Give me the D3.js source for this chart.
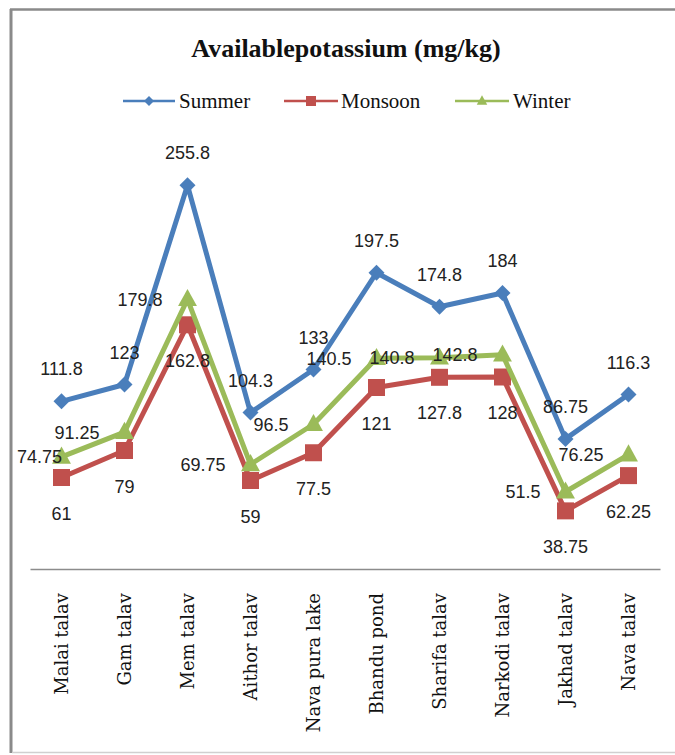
<!DOCTYPE html>
<html>
<head>
<meta charset="utf-8">
<title>Available potassium</title>
<script src="https://d3js.org/d3.v7.min.js"></script>
<style>
  body { margin: 0; padding: 0; background: #fff; }
  svg { display: block; }
</style>
</head>
<body>
<script>
// chart values
var sites = ["Malai talav", "Gam talav", "Mem talav", "Aithor talav", "Nava pura lake",
             "Bhandu pond", "Sharifa talav", "Narkodi talav", "Jakhad talav", "Nava talav"];
var summer  = [111.8, 123, 255.8, 104.3, 133, 197.5, 174.8, 184, 86.75, 116.3];
var monsoon = [61, 79, 162.8, 59, 77.5, 121, 127.8, 128, 38.75, 62.25];
var winter  = [74.75, 91.25, 179.8, 69.75, 96.5, 140.5, 140.8, 142.8, 51.5, 76.25];
var seriesNames = ["Summer", "Monsoon", "Winter"];
var chartTitle = "Availablepotassium (mg/kg)";

var width = 675, height = 755;

var series = [
    { name: seriesNames[0], values: summer,  color: "#4a7ebb", marker: "diamond",  label: "above" },
    { name: seriesNames[1], values: monsoon, color: "#c0504d", marker: "square",   label: "below" },
    { name: seriesNames[2], values: winter,  color: "#9bbb59", marker: "triangle", label: "left" }
];

var svg = d3.select("body").append("svg")
    .attr("width", width)
    .attr("height", height);

// chart area border
svg.append("line").attr("x1", 11).attr("y1", 9).attr("x2", 11).attr("y2", 753)
    .attr("stroke", "#8a8a8a").attr("stroke-width", 3);
svg.append("line").attr("x1", 10).attr("y1", 9.5).attr("x2", 675).attr("y2", 9.5)
    .attr("stroke", "#8a8a8a").attr("stroke-width", 2.5);
svg.append("line").attr("x1", 12).attr("y1", 752.5).attr("x2", 675).attr("y2", 752.5)
    .attr("stroke", "#d0d0d0").attr("stroke-width", 1.5);

var x = d3.scaleBand().domain(sites).range([30, 660]);
var y = d3.scaleLinear().domain([0, 300]).range([569, 119]);
var cx = function (i) { return x(sites[i]) + x.bandwidth() / 2; };

// title
svg.append("text")
    .attr("x", 346).attr("y", 57)
    .attr("text-anchor", "middle")
    .attr("font-family", "Liberation Serif, Times New Roman, serif")
    .attr("font-weight", "bold")
    .attr("font-size", 26)
    .attr("fill", "#111")
    .text(chartTitle);

// x axis
var xAxis = svg.append("g")
    .attr("transform", "translate(0,569)")
    .call(d3.axisBottom(x).tickSize(0).tickFormat(""));
xAxis.select(".domain").attr("stroke", "#8c8c8c").attr("stroke-width", 1.5);

svg.append("g").selectAll("text")
    .data(sites)
    .join("text")
    .attr("transform", function (d) { return "translate(" + (x(d) + x.bandwidth() / 2) + ",593) rotate(-90)"; })
    .attr("dy", "0.35em")
    .attr("text-anchor", "end")
    .attr("font-family", "DejaVu Serif, serif")
    .attr("font-size", 18)
    .attr("fill", "#111")
    .text(function (d) { return d; });

function markerPath(type, s) {
    if (type === "diamond") return "M0," + (-s) + "L" + s + ",0L0," + s + "L" + (-s) + ",0Z";
    if (type === "square") return "M" + (-s) + "," + (-s) + "H" + s + "V" + s + "H" + (-s) + "Z";
    return "M0," + (-s * 1.15) + "L" + (s * 1.05) + "," + (s * 0.75) + "L" + (-s * 1.05) + "," + (s * 0.75) + "Z";
}
var markerSize = { diamond: 8, square: 8.5, triangle: 9 };

var line = d3.line()
    .x(function (d, i) { return cx(i); })
    .y(function (d) { return y(d); });

series.forEach(function (s) {
    var g = svg.append("g");
    g.append("path")
        .datum(s.values)
        .attr("d", line)
        .attr("fill", "none")
        .attr("stroke", s.color)
        .attr("stroke-width", 5)
        .attr("stroke-linejoin", "round");
    g.selectAll("path.m")
        .data(s.values)
        .join("path")
        .attr("class", "m")
        .attr("transform", function (d, i) { return "translate(" + cx(i) + "," + y(d) + ")"; })
        .attr("d", markerPath(s.marker, markerSize[s.marker]))
        .attr("fill", s.color);
});

// data labels
var labels = svg.append("g")
    .attr("font-family", "Liberation Sans, Arial, sans-serif")
    .attr("font-size", 18)
    .attr("fill", "#222");

series.forEach(function (s) {
    s.values.forEach(function (v, i) {
        var t = labels.append("text").text(v);
        if (s.label === "above") {
            t.attr("x", cx(i)).attr("y", y(v) - 26).attr("text-anchor", "middle");
        } else if (s.label === "below") {
            t.attr("x", cx(i)).attr("y", y(v) + 42).attr("text-anchor", "middle");
        } else {
            var w = t.node().getComputedTextLength();
            var left = Math.max(17, cx(i) - 25 - w);
            t.attr("x", left).attr("y", y(v) + 6.5).attr("text-anchor", "start");
        }
    });
});

// legend
var legendItems = [
    { s: series[0], x1: 123, x2: 175, tx: 179 },
    { s: series[1], x1: 284, x2: 338, tx: 341 },
    { s: series[2], x1: 455, x2: 509, tx: 513 }
];
var legend = svg.append("g");
legendItems.forEach(function (it) {
    var ly = 101;
    legend.append("line")
        .attr("x1", it.x1).attr("x2", it.x2)
        .attr("y1", ly).attr("y2", ly)
        .attr("stroke", it.s.color).attr("stroke-width", 2.5);
    legend.append("path")
        .attr("transform", "translate(" + ((it.x1 + it.x2) / 2) + "," + ly + ")")
        .attr("d", markerPath(it.s.marker, 5))
        .attr("fill", it.s.color);
    legend.append("text")
        .attr("x", it.tx).attr("y", ly + 7)
        .attr("font-family", "Liberation Serif, Times New Roman, serif")
        .attr("font-size", 21)
        .attr("fill", "#111")
        .text(it.s.name);
});
</script>
</body>
</html>
